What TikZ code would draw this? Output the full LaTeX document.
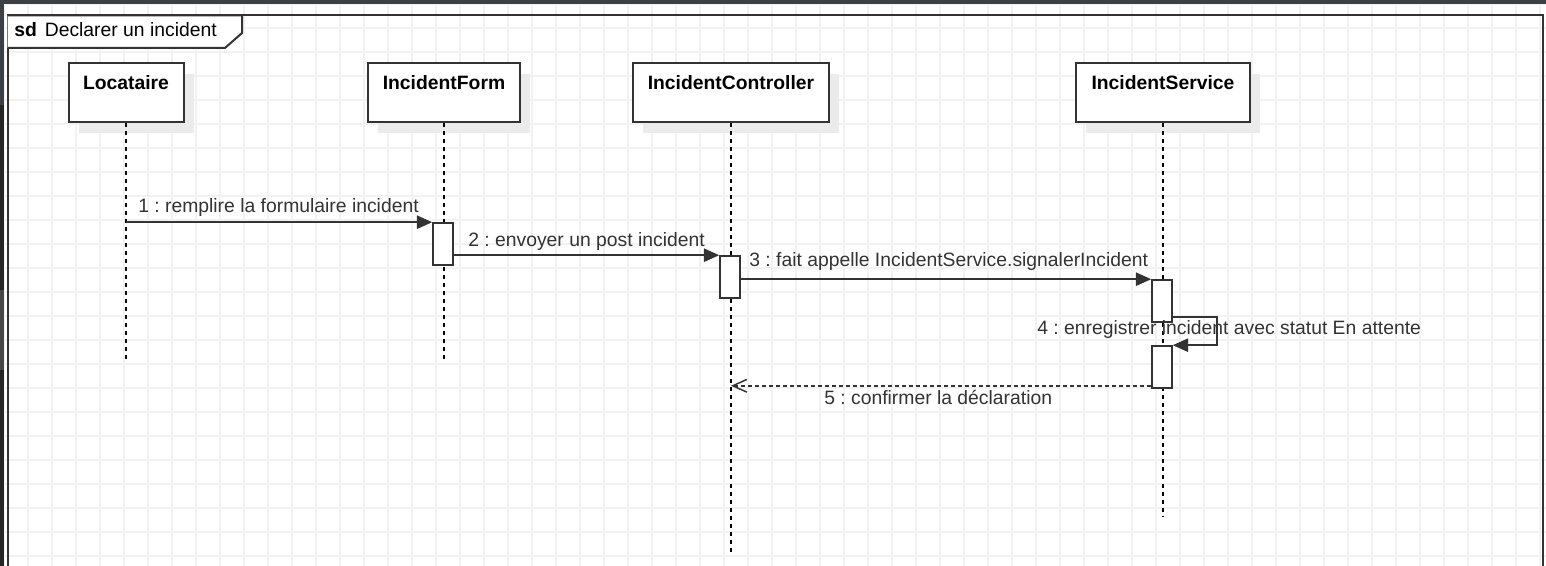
\documentclass[tikz,border=0pt]{standalone}
\usepackage{fontspec}
\setmainfont{Liberation Sans}
\usetikzlibrary{arrows.meta,shadows}
\frenchspacing

\definecolor{linegray}{HTML}{333333}
\definecolor{gridgray}{HTML}{F2F2F2}
\definecolor{shadowgray}{HTML}{EBEBEB}
\definecolor{bandblue}{HTML}{3B4045}
\definecolor{banddark}{HTML}{262626}
\definecolor{bandgray}{HTML}{474747}

\tikzset{
  gridline/.style={draw=gridgray, line width=0.8pt},
  frameline/.style={draw=linegray, line width=1.5pt},
  lifebox/.style={draw=linegray, line width=1.5pt, fill=white, minimum height=44.25pt, inner sep=0pt,
    general shadow={fill=shadowgray, shadow xshift=7.5pt, shadow yshift=-8pt}},
  lifename/.style={anchor=north, inner sep=0pt, yshift=-9.75pt, font=\bfseries\fontsize{14.5}{17}\selectfont},
  lifeline/.style={draw=black, dash pattern=on 3pt off 3pt, line width=1.2pt},
  actbox/.style={draw=linegray, line width=1.2pt, fill=white, minimum width=15pt, minimum height=31.5pt, inner sep=0pt},
  msg/.style={draw=linegray, line width=1.2pt, -{Triangle[length=11.5pt,width=10pt]}},
  reply/.style={draw=linegray, line width=1.1pt, dash pattern=on 3pt off 2.25pt, -{Straight Barb[length=10.5pt,width=9.5pt]}},
  msglabel/.style={anchor=base west, inner sep=0pt, text=linegray, font=\fontsize{14.5}{17}\selectfont},
}

\begin{document}
\begin{tikzpicture}[x=0.75pt,y=-0.75pt]
\useasboundingbox (0,0) rectangle (1546,566);
\fill[white] (0,0) rectangle (1546,566);

% grid
\foreach \g in {4,28,...,1540} {
    \draw[gridline] (\g,0) -- (\g,566);
}
\foreach \g in {4,28,...,556} {
    \draw[gridline] (0,\g) -- (1546,\g);
}

% window edges
\fill[bandblue] (0,0) rectangle (1546,4);
\fill[bandblue] (0,0) rectangle (4,105);
\fill[banddark] (0,105) rectangle (4,290);
\fill[bandgray] (0,290) rectangle (4,370);
\fill[banddark] (0,370) rectangle (4,566);

% frame
\draw[frameline] (7.5,15.5) rectangle (1542.5,600);
\draw[frameline, fill=white] (7.5,15.5) -- (242,15.5) -- (242,33) -- (225,48) -- (7.5,48);
\node[msglabel, text=black] (title) at (14,37) {\textbf{sd}\hspace{6pt}Declarer un incident};

% lifelines
\foreach \n/\x/\w/\t/\e in {loc/126/86.25/Locataire/362, form/444/114/IncidentForm/362,
                            ctrl/731/147/IncidentController/552, serv/1163/130.5/IncidentService/516} {
    \node[lifebox, minimum width=\w pt] (\n) at (\x,93) {};
    \node[lifename] (\n-name) at (\n.north) {\t};
    \coordinate (\n-end) at (\x,\e);
    \draw[lifeline] (\n.south) -- (\n-end);
}

% activations
\node[actbox] (act1) at (443,244) {};
\node[actbox] (act2) at (730,277) {};
\node[actbox] (act3) at (1162,301) {};
\node[actbox] (act4) at (1162,367) {};

% messages
\draw[msg] (act1.north west -| loc.south) -- (act1.north west);
\draw[msg] (act1.east |- act2.north) -- (act2.north west);
\draw[msg] (act2.east |- act3.north) -- (act3.north west);
\draw[msg] ([yshift=4.5pt]act3.south east) -- ++(44,0) |- (act4.north east);
\draw[reply] ([yshift=2.25pt]act4.south west) -- ([yshift=2.25pt]act4.south west -| ctrl.south);

\node[msglabel] (lab1) at (138,213) {1 : remplire la formulaire incident};
\node[msglabel] (lab2) at (468,247) {2 : envoyer un post incident};
\node[msglabel] (lab3) at (749,267) {3 : fait appelle IncidentService.signalerIncident};
\node[msglabel] (lab4) at (1037,335) {4 : enregistrer incident avec statut En attente};
\node[msglabel] (lab5) at (824,405) {5 : confirmer la déclaration};
\end{tikzpicture}
\end{document}
